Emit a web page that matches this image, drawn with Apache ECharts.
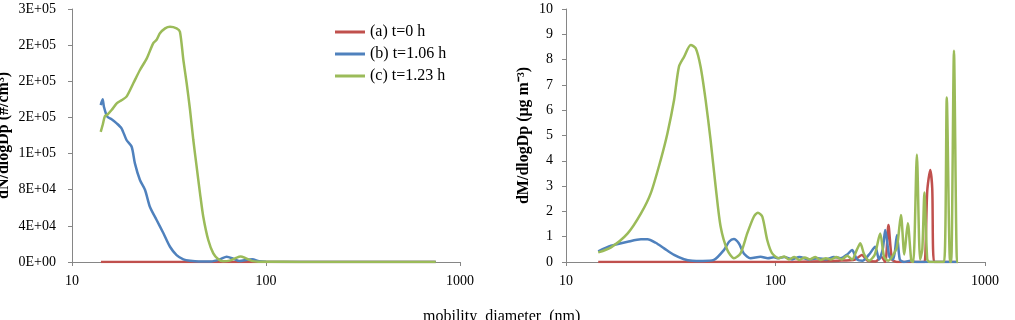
<!DOCTYPE html>
<html>
<head>
<meta charset="utf-8">
<script src="https://cdn.jsdelivr.net/npm/echarts@6/dist/echarts.min.js"></script>
<style>
html,body{margin:0;padding:0;background:#fff;}
#sizeChart{width:1015px;height:320px;}
</style>
</head>
<body>
<div id="sizeChart"></div>
<script>
/**************************************数据********************************************/
var seriesNames = ['(a) t=0 h', '(b) t=1.06 h', '(c) t=1.23 h'];
var lineColors = ['#C0504D', '#4F81BD', '#9BBB59'];
var diameterTicks = [10, 100, 1000];
var numberTicks = [0, 40000, 80000, 120000, 160000, 200000, 240000, 280000];
var massTicks = [0, 1, 2, 3, 4, 5, 6, 7, 8, 9, 10];

//数浓度 [粒径nm, dN/dlogDp]
var numberA = [[14.1,0],[20,0],[30,0],[50,0],[80,0],[120,0],[200,0],[350,0],[500,0],[750,0]];
var numberB = [[14.06,173700],[14.39,180000],[14.6,172000],[15.2,160800],[16.0,158000],[17.0,153500],[18.0,148000],[19.1,135000],[20.3,127600],[21.1,109200],[22.4,90700],[23.8,79700],[25.2,61200],[27.3,46500],[29.6,31800],[32.0,16900],[34.6,7700],[37.5,3000],[40.6,1400],[45,500],[52,600],[58,3000],[62.7,5900],[68,3500],[73,1000],[80,2500],[85,3000],[92,800],[100,200],[150,100],[300,50],[750,0]];
var numberC = [[14.06,144000],[14.4,152000],[14.79,161600],[15.2,163000],[16.0,168200],[17.0,175600],[18.0,179000],[19.1,183000],[20.7,197800],[22.4,212500],[24.3,225400],[26.2,242000],[27.3,246000],[28.4,253100],[30.2,258600],[32.0,260400],[34.6,258600],[36.0,254900],[37.5,223600],[39.0,197800],[40.6,168200],[42.2,135000],[43.9,105500],[45.7,76000],[47.5,50100],[50.4,24300],[53.5,9600],[56.8,3000],[60,800],[65,1500],[70,4500],[74,6000],[78,4500],[85,1000],[93,300],[100,200],[150,100],[200,50],[300,30],[500,20],[750,0]];

//质量浓度 [粒径nm, dM/dlogDp]
var massA = [[14.25,0],[50,0],[100,0],[150,0.02],[200,0.05],[240,0.1],[258,0.28],[275,0.05],[300,0.02],[320,0.2],[334,0],[346,1.46],[360,0.1],[380,0],[500,0],[515,0],[530,2.8],[548,3.64],[560,2.9],[572,0],[743,0]];
var massB = [[14.25,0.42],[16.4,0.64],[19.7,0.80],[22.8,0.90],[24.5,0.90],[26.8,0.76],[29.4,0.54],[32.8,0.28],[36.6,0.11],[40,0.05],[45,0.04],[50.8,0.08],[56.7,0.47],[60,0.80],[63.3,0.91],[66.8,0.74],[70.6,0.34],[76,0.15],[84.9,0.21],[92,0.15],[98.2,0.19],[103,0.15],[110,0.2],[120,0.1],[130,0.2],[145,0.1],[160,0.15],[175,0.1],[190,0.2],[205,0.15],[220,0.3],[232,0.47],[245,0.1],[260,0.05],[280,0.3],[299,0.6],[312,0.1],[325,0.5],[334,1.26],[350,0.2],[365,0.1],[380,1.07],[392,0.1],[410,0],[440,0.05],[470,0],[520,0],[600,0],[743,0]];
var massC = [[14.25,0.38],[16.4,0.58],[19.7,1.13],[22.8,1.92],[25.4,2.72],[28.3,4.03],[30.5,5.09],[32.8,6.40],[34.6,7.72],[36.6,8.11],[39.4,8.58],[41.6,8.45],[43.9,7.72],[46.4,6.40],[49.0,4.82],[51.8,2.98],[54.7,1.40],[58.9,0.47],[63.3,0.15],[68.1,0.34],[73.3,1.13],[78.8,1.79],[82.4,1.95],[86.5,1.79],[91.3,0.87],[96.4,0.34],[103.8,0.15],[110,0.22],[116,0.1],[123,0.2],[130,0.08],[138,0.18],[146,0.1],[155,0.2],[164,0.08],[174,0.15],[184,0.1],[195,0.2],[207,0.1],[220,0.25],[232,0.1],[245,0.5],[254,0.74],[265,0.3],[280,0.05],[298,0.3],[316,1.13],[330,0.2],[345,0.05],[360,0.2],[380,0.6],[397,1.86],[412,0.3],[428,1.53],[445,0.05],[455,0],[473,4.25],[490,0.1],[502,0.5],[514,2.75],[530,0.1],[545,0],[600,0],[638,0],[657,6.5],[681,0],[690,0],[711,8.35],[735,0],[743,0]];
/**************************************数据********************************************/

var fontName = 'Liberation Serif';
var axisGray = '#868686';

//Excel 风格的科学计数 0E+00
function sciLabel(v){
	var s = Number(v).toExponential(0).split('e');
	var exp = parseInt(s[1], 10);
	var sign = exp < 0 ? '-' : '+';
	var e = Math.abs(exp);
	return s[0] + 'E' + sign + (e < 10 ? '0' + e : e);
}

function xAxisOption(gridIndex){
	return {
		type: 'log',
		logBase: 10,
		gridIndex: gridIndex,
		min: diameterTicks[0],
		max: diameterTicks[diameterTicks.length - 1],
		axisLine: {lineStyle: {color: axisGray, width: 1}},
		axisTick: {show: true, length: 4, lineStyle: {color: axisGray}},
		axisLabel: {color: '#000', fontFamily: fontName, fontSize: 14, margin: 12, formatter: function(v){ return String(Math.round(v)); }},
		splitLine: {show: false},
		minorTick: {show: false}
	};
}

function yAxisOption(gridIndex, ticks, name, gap, margin, formatter){
	return {
		type: 'value',
		gridIndex: gridIndex,
		min: ticks[0],
		max: ticks[ticks.length - 1],
		interval: ticks[1] - ticks[0],
		name: name,
		nameLocation: 'middle',
		nameGap: gap,
		nameTextStyle: {color: '#000', fontFamily: fontName, fontSize: 16, fontWeight: 'bold'},
		axisLine: {show: true, lineStyle: {color: axisGray, width: 1}},
		axisTick: {show: true, length: 4, lineStyle: {color: axisGray}},
		axisLabel: {color: '#000', fontFamily: fontName, fontSize: 14, margin: margin, formatter: formatter},
		splitLine: {show: false}
	};
}

function lineSeries(k, data, axisIndex){
	return {
		name: seriesNames[k],
		type: 'line',
		xAxisIndex: axisIndex,
		yAxisIndex: axisIndex,
		data: data,
		showSymbol: false,
		symbol: 'none',
		smooth: 0.25,
		lineStyle: {width: 2.5, color: lineColors[k]},
		itemStyle: {color: lineColors[k]},
		z: 2 + k
	};
}

var sizeChart = echarts.init(document.getElementById('sizeChart'));
var option = {
	animation: false,
	backgroundColor: '#fff',
	grid: [
		{left: 72, top: 9, width: 388, bottom: 58, outerBoundsMode: 'none'},
		{left: 566, top: 9, width: 419, bottom: 58, outerBoundsMode: 'none'}
	],
	legend: {
		data: seriesNames,
		orient: 'vertical',
		left: 330,
		top: 19,
		icon: 'rect',
		itemWidth: 30,
		itemHeight: 3,
		itemGap: 6,
		selectedMode: false,
		textStyle: {color: '#000', fontFamily: fontName, fontSize: 16}
	},
	xAxis: [xAxisOption(0), xAxisOption(1)],
	yAxis: [
		yAxisOption(0, numberTicks, 'dN/dlogDp (#/cm³)', 60, 16, sciLabel),
		yAxisOption(1, massTicks, 'dM/dlogDp (μg m⁻³)', 34, 13, null)
	],
	graphic: [{
		type: 'text',
		left: 423,
		top: 309,
		style: {text: 'mobility  diameter  (nm)', fill: '#000', font: '16px "Liberation Serif"'}
	}],
	series: [
		lineSeries(0, numberA, 0),
		lineSeries(1, numberB, 0),
		lineSeries(2, numberC, 0),
		lineSeries(0, massA, 1),
		lineSeries(1, massB, 1),
		lineSeries(2, massC, 1)
	]
};
sizeChart.setOption(option);
</script>
</body>
</html>
